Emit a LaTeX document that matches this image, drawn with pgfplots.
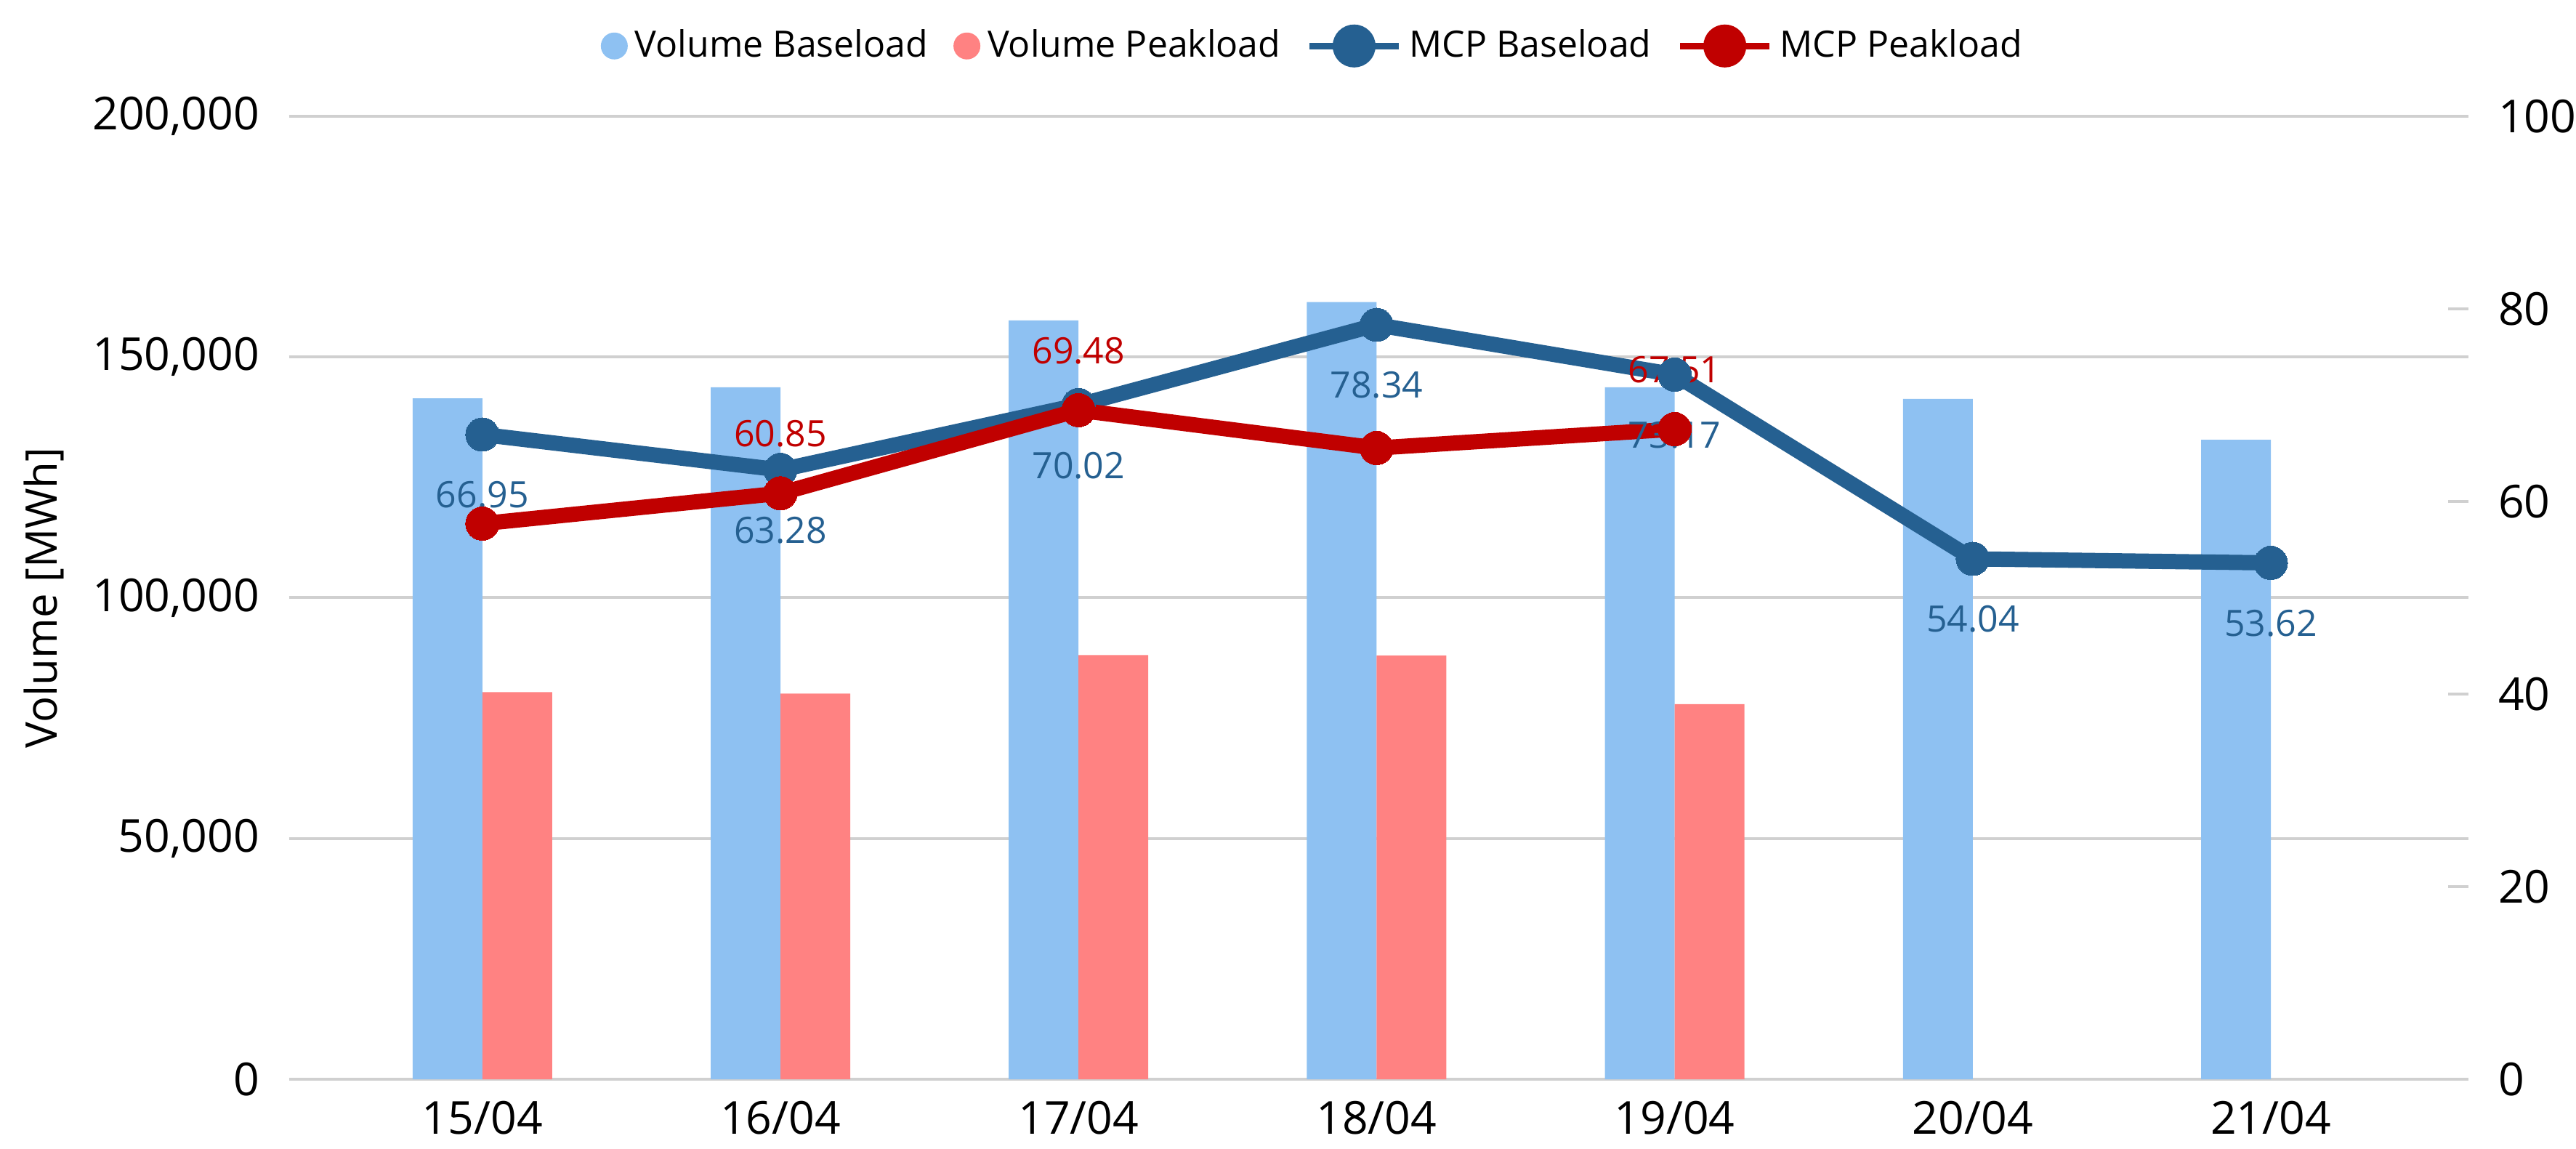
\documentclass[border=0pt]{standalone}
\usepackage{pgfplots}
\pgfplotsset{compat=1.18}
\usepackage{fontspec}
\setmainfont{Open Sans}
\definecolor{barblue}{HTML}{8EC1F2}
\definecolor{barred}{HTML}{FF8282}
\definecolor{lineblue}{HTML}{256091}
\definecolor{linered}{HTML}{C00000}
\definecolor{gridgray}{HTML}{D0D0D0}
\begin{document}
\begin{tikzpicture}
\pgfplotsset{
  every axis/.append style={
    scale only axis, width=599.8pt, height=265pt,
    xmin=-0.648, xmax=6.663,
    /pgf/number format/assume math mode=true,
    tick label style={font=\fontsize{12.5}{14}\selectfont},
    axis line style={draw=none},
  },
}
\begin{axis}[
  ymin=0, ymax=200000,
  ytick={0,50000,100000,150000,200000},
  scaled y ticks=false,
  yticklabel style={/pgf/number format/fixed, /pgf/number format/1000 sep={,},
    anchor=east, inner sep=0pt, xshift=-8pt},
  ymajorgrids, grid style={gridgray, line width=0.8pt},
  xtick={0,1,2,3,4,5,6},
  xticklabels={15/04,16/04,17/04,18/04,19/04,20/04,21/04},
  xticklabel style={anchor=base, inner sep=0pt, yshift=-15pt},
  major tick length=0pt,
  ylabel={Volume [MWh]},
  ylabel style={at={(axis description cs:-0.1127,0.5)}, anchor=center, font=\fontsize{12}{14}\selectfont},
  bar width=0.234,
]
\addplot[ybar, fill=barblue, draw=none, bar shift=-0.117] coordinates {
  (0,141400) (1,143700) (2,157600) (3,161400) (4,143700) (5,141300) (6,132800)};
\addplot[ybar, fill=barred, draw=none, bar shift=0.117] coordinates {
  (0,80400) (1,80100) (2,88100) (3,88000) (4,77900)};
\coordinate (sw) at (rel axis cs:0,0);
\coordinate (ne) at (rel axis cs:1,1);
\end{axis}
\begin{axis}[
  axis x line=none,
  axis y line*=right,
  ymin=0, ymax=100,
  ytick={0,20,40,60,80,100},
  yticklabel style={anchor=west, inner sep=0pt, xshift=8pt},
  tick align=inside,
  major tick length=5.6pt,
  tick style={gridgray, line width=0.8pt},
  legend style={at={(0.4708,1.073)}, anchor=center, draw=none, fill=none,
    font=\fontsize{10}{12}\selectfont, legend columns=4,
    /tikz/every even column/.append style={column sep=5pt}},
  legend cell align=left,
]
\addlegendimage{legend image code/.code={\fill[barblue] (0pt,0pt) circle (3.5pt);}}
\addlegendentry{Volume Baseload}
\addlegendimage{legend image code/.code={\fill[barred] (0pt,0pt) circle (3.5pt);}}
\addlegendentry{Volume Peakload}
% data labels (drawn beneath the lines)
\addplot[draw=none, forget plot, point meta=y, nodes near coords,
  nodes near coords style={anchor=center, yshift=-16.6pt, text=lineblue,
    font=\fontsize{10}{12}\selectfont,
    /pgf/number format/fixed, /pgf/number format/precision=2, /pgf/number format/fixed zerofill}]
  coordinates {(0,66.95) (1,63.28) (2,70.02) (3,78.34) (4,73.17) (5,54.04) (6,53.62)};
\addplot[draw=none, forget plot, point meta=y, nodes near coords,
  nodes near coords style={anchor=center, yshift=16.4pt, text=linered,
    font=\fontsize{10}{12}\selectfont,
    /pgf/number format/fixed, /pgf/number format/precision=2, /pgf/number format/fixed zerofill}]
  coordinates {(1,60.85) (2,69.48) (4,67.51)};
\addplot[lineblue, line width=4.2pt, mark=*, mark size=4.6pt,
  mark options={solid, fill=lineblue, draw=lineblue, line width=0pt},
  legend image code/.code={\draw[lineblue, line width=1.8pt] (0pt,0pt) -- (24.6pt,0pt); \fill[lineblue] (12.3pt,0pt) circle (3.8pt);}]
  coordinates {(0,66.95) (1,63.28) (2,70.02) (3,78.34) (4,73.17) (5,54.04) (6,53.62)};
\addlegendentry{MCP Baseload}
\addplot[linered, line width=4.2pt, mark=*, mark size=4.6pt,
  mark options={solid, fill=linered, draw=linered, line width=0pt},
  legend image code/.code={\draw[linered, line width=1.8pt] (0pt,0pt) -- (24.6pt,0pt); \fill[linered] (12.3pt,0pt) circle (3.8pt);}]
  coordinates {(0,57.7) (1,60.85) (2,69.48) (3,65.55) (4,67.51)};
\addlegendentry{MCP Peakload}
\end{axis}
\pgfresetboundingbox
\path[use as bounding box] ([shift={(-79.6pt,-19pt)}]sw) rectangle ([shift={(29.6pt,32pt)}]ne);
\end{tikzpicture}
\end{document}
